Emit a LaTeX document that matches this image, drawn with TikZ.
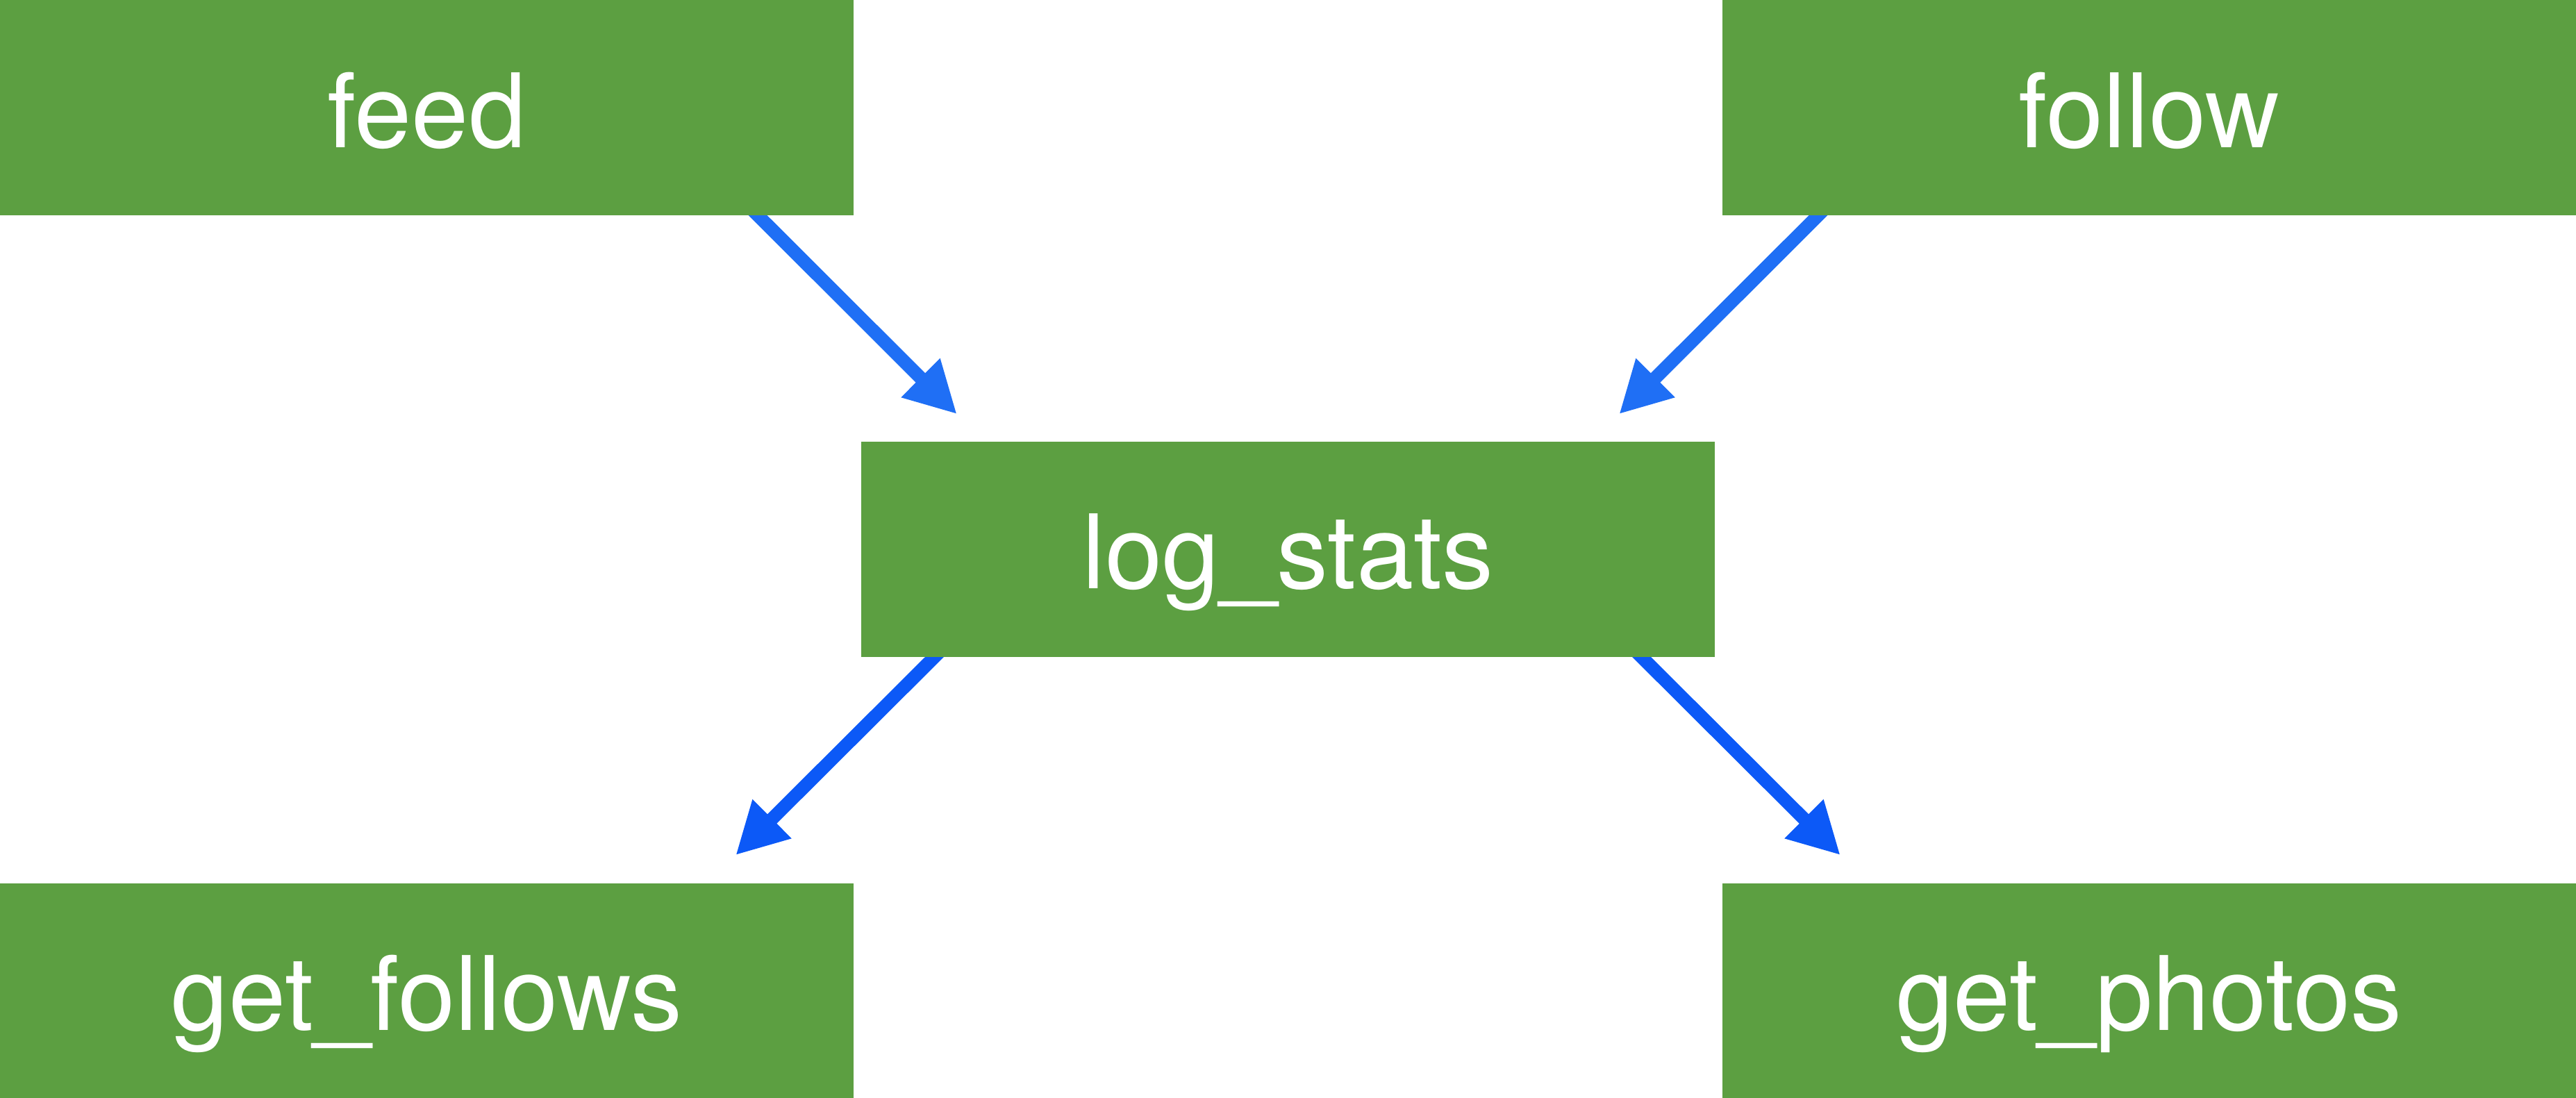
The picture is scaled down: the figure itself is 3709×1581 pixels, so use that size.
\documentclass[tikz,border=0pt]{standalone}
\usepackage{fontspec}
\setmainfont{TeX Gyre Heros}
\usetikzlibrary{arrows.meta}
\definecolor{boxgreen}{HTML}{5C9F41}
\definecolor{flowtop}{HTML}{1F6FF5}
\definecolor{flowbot}{HTML}{0C59F7}
\pgfdeclarelayer{background}
\pgfsetlayers{background,main}
\tikzset{
  task/.style={rectangle, fill=boxgreen, draw=none, inner sep=0pt,
    minimum width=1229pt, minimum height=310pt, text=white,
    text height=114pt, text depth=0pt,
    font=\fontsize{148}{150}\selectfont},
  flow/.style={line width=19pt,
    -{Triangle[length=74pt,width=74pt]}},
}
\begin{document}
\begin{tikzpicture}[x=1pt,y=-1pt]
  \useasboundingbox (0,0) rectangle (3709,1581);
  % task boxes
  \node[task] (feed)      at (614.5,155)   {feed};
  \node[task] (follow)    at (3094.5,155)  {follow};
  \node[task] (logstats)  at (1854.5,790.5) {log\_stats};
  \node[task] (getfollows) at (614.5,1426.5) {get\_follows};
  \node[task] (getphotos) at (3094.5,1426.5) {get\_photos};
  % dependencies, drawn behind the boxes so each starts flush with a box edge
  \begin{pgfonlayer}{background}
    \fill[white] (0,0) rectangle (3709,1581);
    \draw[flow, flowtop] ([xshift=-158pt,yshift=20pt]feed.south east)
      -- ([xshift=138pt,yshift=39pt]logstats.north west);
    \draw[flow, flowtop] ([xshift=158pt,yshift=20pt]follow.south west)
      -- ([xshift=-138pt,yshift=39pt]logstats.north east);
    \draw[flow, flowbot] ([xshift=126pt,yshift=20pt]logstats.south west)
      -- ([xshift=-170pt,yshift=40pt]getfollows.north east);
    \draw[flow, flowbot] ([xshift=-126pt,yshift=20pt]logstats.south east)
      -- ([xshift=170pt,yshift=40pt]getphotos.north west);
  \end{pgfonlayer}
\end{tikzpicture}
\end{document}
